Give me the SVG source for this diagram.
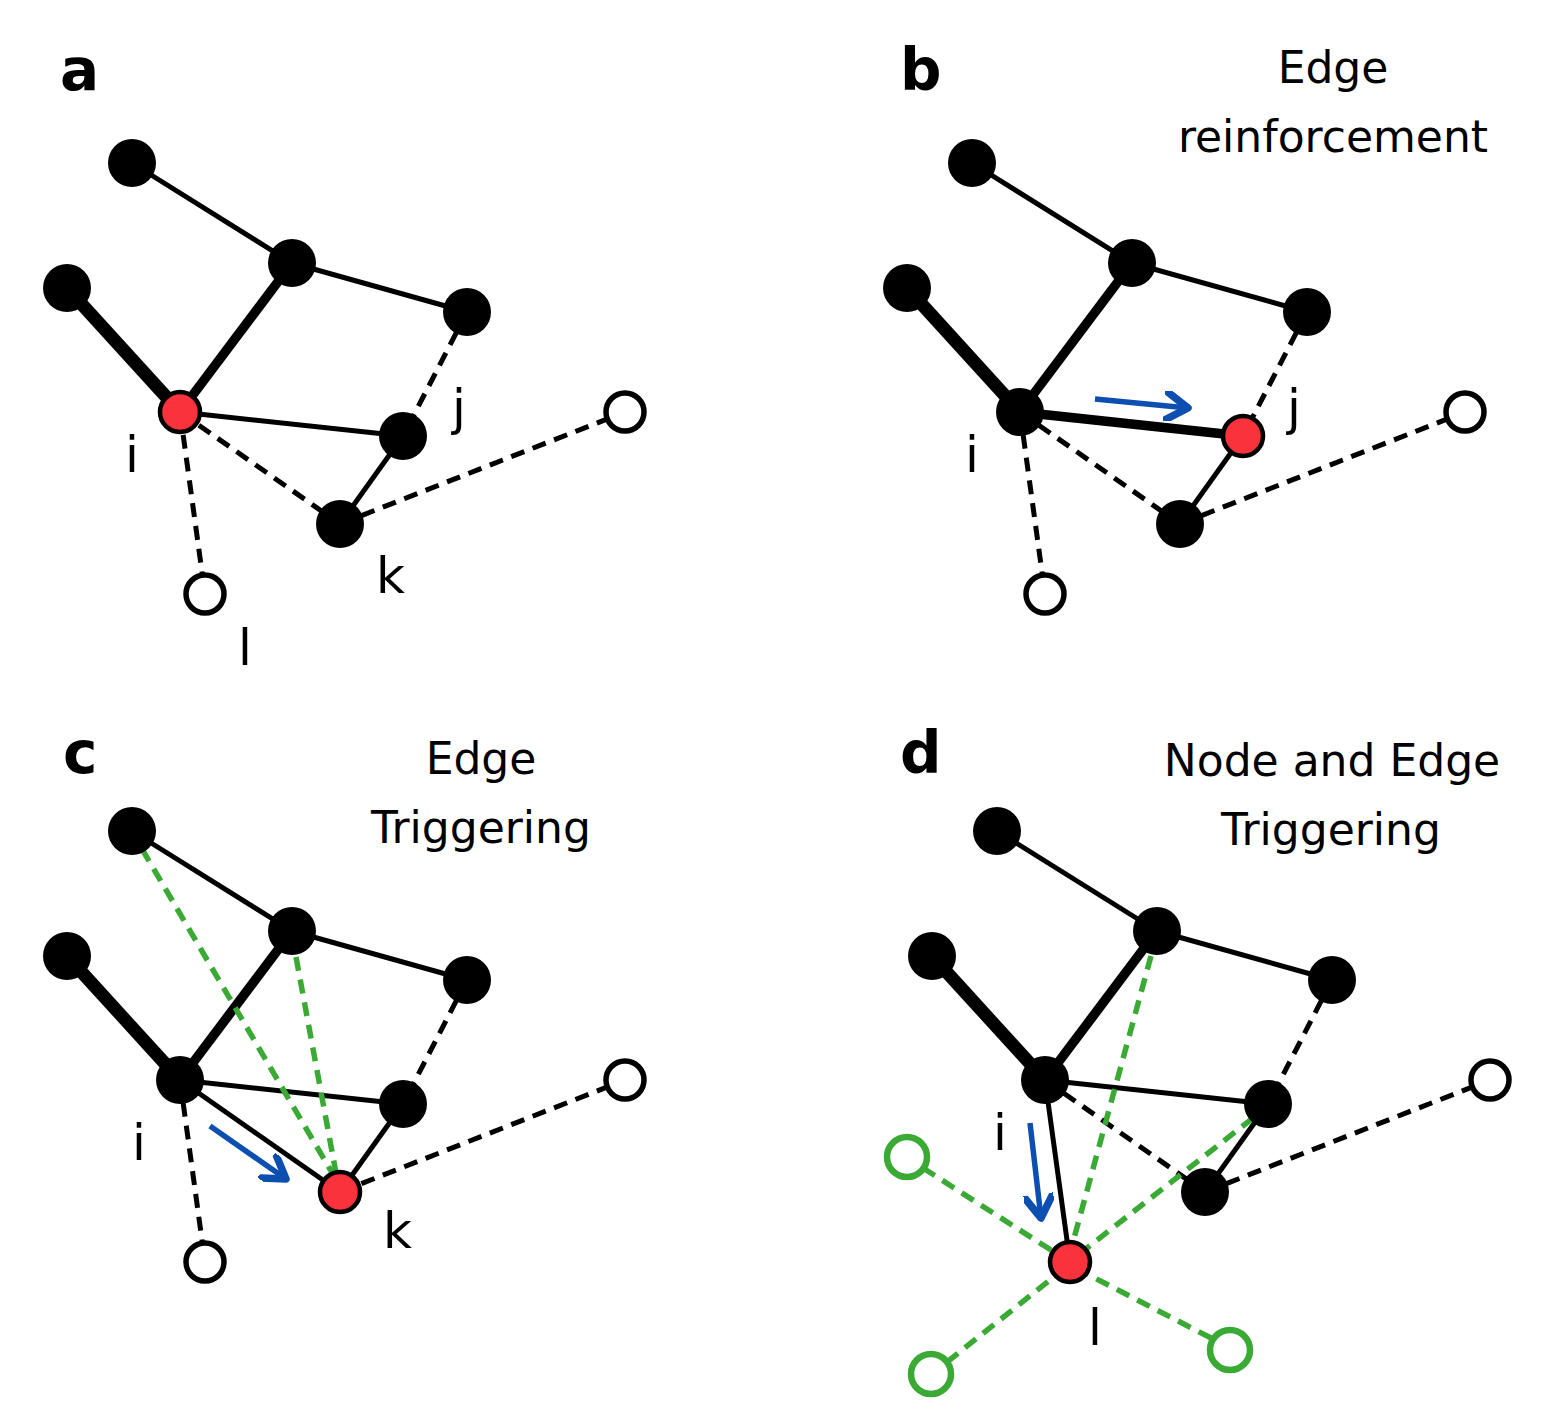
<svg xmlns="http://www.w3.org/2000/svg" width="1552" height="1428" viewBox="0 0 1552 1428">
<style>
.e{stroke:#000;stroke-width:5;fill:none}
.m{stroke:#000;stroke-width:9.5;fill:none}
.t{stroke:#000;stroke-width:13;fill:none}
.d{stroke:#000;stroke-width:5;stroke-dasharray:14 9;fill:none}
.g{stroke:#3aaa35;stroke-width:5.5;stroke-dasharray:14 9;fill:none}
.a{stroke:#0d4fb0;stroke-width:5.5;fill:none;marker-end:url(#ah)}
.n{fill:#000}
.r{fill:#f9323c;stroke:#000;stroke-width:4.5}
.o{fill:#fff;stroke:#000;stroke-width:5.5}
.og{fill:#fff;stroke:#3aaa35;stroke-width:6.5}
.lb{font-family:"DejaVu Sans",sans-serif;font-size:50px;fill:#000}
.pl{font-family:"DejaVu Sans",sans-serif;font-size:58px;font-weight:bold;fill:#000}
.ti{font-family:"DejaVu Sans",sans-serif;font-size:44px;fill:#000;text-anchor:middle}
</style>
<defs>
<marker id="ah" markerUnits="userSpaceOnUse" markerWidth="30" markerHeight="30" refX="16" refY="10" orient="auto" viewBox="0 0 20 20">
<polyline points="2,1 16,10 2,19" fill="none" stroke="#0d4fb0" stroke-width="5" stroke-linecap="round" stroke-linejoin="round"/>
</marker>
</defs>
<rect width="1552" height="1428" fill="#fff"/>

<g id="connectors">
<g id="conn-a">
<line class="e" x1="132" y1="163" x2="292" y2="263"/>
<line class="e" x1="292" y1="263" x2="467" y2="312"/>
<line class="t" x1="67" y1="288" x2="180" y2="412"/>
<line class="m" x1="292" y1="263" x2="180" y2="412"/>
<line class="e" x1="180" y1="412" x2="403" y2="436"/>
<line class="d" x1="467" y1="312" x2="403" y2="436"/>
<line class="e" x1="403" y1="436" x2="340" y2="524"/>
<line class="d" x1="180" y1="412" x2="340" y2="524"/>
<line class="d" x1="340" y1="524" x2="625" y2="412"/>
<line class="d" x1="180" y1="412" x2="205" y2="594"/>
</g>
<g id="conn-b" transform="translate(840,0)">
<line class="e" x1="132" y1="163" x2="292" y2="263"/>
<line class="e" x1="292" y1="263" x2="467" y2="312"/>
<line class="t" x1="67" y1="288" x2="180" y2="412"/>
<line class="m" x1="292" y1="263" x2="180" y2="412"/>
<line class="m" x1="180" y1="412" x2="403" y2="436"/>
<line class="d" x1="467" y1="312" x2="403" y2="436"/>
<line class="e" x1="403" y1="436" x2="340" y2="524"/>
<line class="d" x1="180" y1="412" x2="340" y2="524"/>
<line class="d" x1="340" y1="524" x2="625" y2="412"/>
<line class="d" x1="180" y1="412" x2="205" y2="594"/>
<line class="a" x1="255" y1="399" x2="348" y2="408"/>
</g>
<g id="conn-c" transform="translate(0,668)">
<line class="e" x1="132" y1="163" x2="292" y2="263"/>
<line class="e" x1="292" y1="263" x2="467" y2="312"/>
<line class="t" x1="67" y1="288" x2="180" y2="412"/>
<line class="m" x1="292" y1="263" x2="180" y2="412"/>
<line class="e" x1="180" y1="412" x2="403" y2="436"/>
<line class="d" x1="467" y1="312" x2="403" y2="436"/>
<line class="e" x1="403" y1="436" x2="340" y2="524"/>
<line class="e" x1="180" y1="412" x2="340" y2="524"/>
<line class="d" x1="340" y1="524" x2="625" y2="412"/>
<line class="d" x1="180" y1="412" x2="205" y2="594"/>
<line class="g" x1="142" y1="181" x2="334" y2="508"/>
<line class="g" x1="296" y1="289" x2="336" y2="505"/>
<line class="a" x1="210" y1="458" x2="286" y2="511"/>
</g>
<g id="conn-d" transform="translate(865,668)">
<line class="e" x1="132" y1="163" x2="292" y2="263"/>
<line class="e" x1="292" y1="263" x2="467" y2="312"/>
<line class="t" x1="67" y1="288" x2="180" y2="412"/>
<line class="m" x1="292" y1="263" x2="180" y2="412"/>
<line class="e" x1="180" y1="412" x2="403" y2="436"/>
<line class="d" x1="467" y1="312" x2="403" y2="436"/>
<line class="e" x1="403" y1="436" x2="340" y2="524"/>
<line class="d" x1="180" y1="412" x2="340" y2="524"/>
<line class="d" x1="340" y1="524" x2="625" y2="412"/>
<line class="e" x1="180" y1="412" x2="205" y2="594"/>
<line class="g" x1="286" y1="288" x2="208" y2="574"/>
<line class="g" x1="388" y1="450" x2="222" y2="580"/>
<line class="g" x1="58" y1="500" x2="189" y2="584"/>
<line class="g" x1="82" y1="694" x2="190" y2="608"/>
<line class="g" x1="346" y1="670" x2="222" y2="606"/>
<line class="a" x1="165" y1="455" x2="176" y2="550"/>
</g>
</g>

<g id="nodes">
<g id="a-n1"><circle class="n" cx="132" cy="163" r="24"/></g>
<g id="a-n2"><circle class="n" cx="292" cy="263" r="24"/></g>
<g id="a-n3"><circle class="n" cx="67" cy="288" r="24"/></g>
<g id="a-n4"><circle class="n" cx="467" cy="312" r="24"/></g>
<g id="a-i"><circle class="r" cx="180" cy="412" r="20"/></g>
<g id="a-j"><circle class="n" cx="403" cy="436" r="24"/></g>
<g id="a-k"><circle class="n" cx="340" cy="524" r="24"/></g>
<g id="a-o"><circle class="o" cx="625" cy="412" r="19"/></g>
<g id="a-l"><circle class="o" cx="205" cy="594" r="19"/></g>
<g id="b-n1"><circle class="n" cx="972" cy="163" r="24"/></g>
<g id="b-n2"><circle class="n" cx="1132" cy="263" r="24"/></g>
<g id="b-n3"><circle class="n" cx="907" cy="288" r="24"/></g>
<g id="b-n4"><circle class="n" cx="1307" cy="312" r="24"/></g>
<g id="b-i"><circle class="n" cx="1020" cy="412" r="24"/></g>
<g id="b-j"><circle class="r" cx="1243" cy="436" r="20"/></g>
<g id="b-k"><circle class="n" cx="1180" cy="524" r="24"/></g>
<g id="b-o"><circle class="o" cx="1465" cy="412" r="19"/></g>
<g id="b-l"><circle class="o" cx="1045" cy="594" r="19"/></g>
<g id="c-n1"><circle class="n" cx="132" cy="831" r="24"/></g>
<g id="c-n2"><circle class="n" cx="292" cy="931" r="24"/></g>
<g id="c-n3"><circle class="n" cx="67" cy="956" r="24"/></g>
<g id="c-n4"><circle class="n" cx="467" cy="980" r="24"/></g>
<g id="c-i"><circle class="n" cx="180" cy="1080" r="24"/></g>
<g id="c-j"><circle class="n" cx="403" cy="1104" r="24"/></g>
<g id="c-k"><circle class="r" cx="340" cy="1192" r="20"/></g>
<g id="c-o"><circle class="o" cx="625" cy="1080" r="19"/></g>
<g id="c-l"><circle class="o" cx="205" cy="1262" r="19"/></g>
<g id="d-n1"><circle class="n" cx="997" cy="831" r="24"/></g>
<g id="d-n2"><circle class="n" cx="1157" cy="931" r="24"/></g>
<g id="d-n3"><circle class="n" cx="932" cy="956" r="24"/></g>
<g id="d-n4"><circle class="n" cx="1332" cy="980" r="24"/></g>
<g id="d-i"><circle class="n" cx="1045" cy="1080" r="24"/></g>
<g id="d-j"><circle class="n" cx="1268" cy="1104" r="24"/></g>
<g id="d-k"><circle class="n" cx="1205" cy="1192" r="24"/></g>
<g id="d-o"><circle class="o" cx="1490" cy="1080" r="19"/></g>
<g id="d-l"><circle class="r" cx="1070" cy="1262" r="20"/></g>
<g id="d-g1"><circle class="og" cx="907" cy="1157" r="20"/></g>
<g id="d-g2"><circle class="og" cx="931" cy="1374" r="20"/></g>
<g id="d-g3"><circle class="og" cx="1230" cy="1350" r="20"/></g>
</g>

<g id="labels">
<text class="pl" x="60" y="90">a</text>
<text class="pl" x="900" y="90">b</text>
<text class="pl" x="63" y="773">c</text>
<text class="pl" x="900" y="773">d</text>
<text class="ti" x="1333" y="83">Edge</text>
<text class="ti" x="1333" y="152">reinforcement</text>
<text class="ti" x="481" y="774">Edge</text>
<text class="ti" x="481" y="843">Triggering</text>
<text class="ti" x="1332" y="776">Node and Edge</text>
<text class="ti" x="1331" y="845">Triggering</text>
<text class="lb" x="125" y="472">i</text>
<text class="lb" x="452" y="425">j</text>
<text class="lb" x="376" y="593">k</text>
<text class="lb" x="238" y="665">l</text>
<text class="lb" x="965" y="472">i</text>
<text class="lb" x="1287" y="425">j</text>
<text class="lb" x="132" y="1160">i</text>
<text class="lb" x="383" y="1248">k</text>
<text class="lb" x="993" y="1150">i</text>
<text class="lb" x="1088" y="1345">l</text>
</g>
</svg>
